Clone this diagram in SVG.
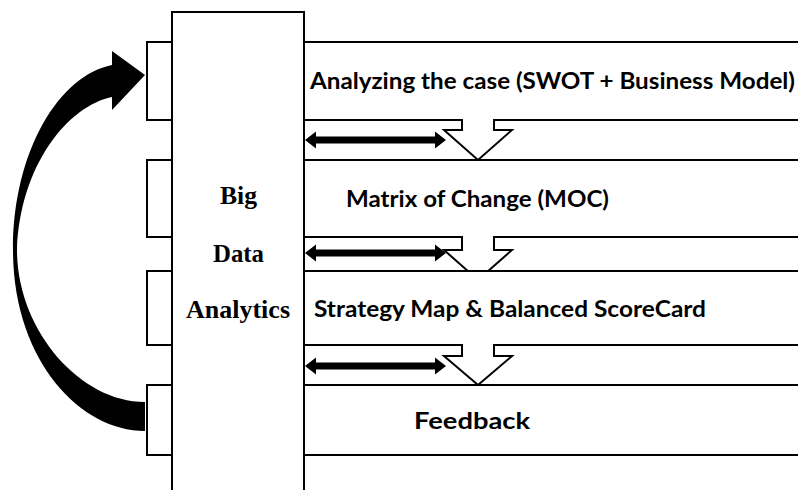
<svg xmlns="http://www.w3.org/2000/svg" width="798" height="490" viewBox="0 0 798 490">
<style>
.band{fill:#fff;stroke:#000;stroke-width:2}
.core{fill:#fff;stroke:#000;stroke-width:2}
.lbl{font-family:"Lato","Liberation Sans",sans-serif;font-weight:bold;font-size:23px;fill:#000}
.core-lbl{font-family:"Liberation Serif","Times New Roman",serif;font-weight:bold;font-size:25px;fill:#000;text-anchor:middle}
.dbl{fill:#000}
</style>
<defs>
<path id="dblarrow" d="M0 0 L11 -8.5 L11 -3.5 L130 -3.5 L130 -8.5 L141 0 L130 8.5 L130 3.5 L11 3.5 L11 8.5 Z"/>
</defs>
<rect width="798" height="490" fill="#fff"/>
<g id="band1">
<path class="band" d="M800 42 L147 42 L147 120 L462 120 L462 130 L444 130 L478 160 L512 130 L494 130 L494 120 L800 120"/>
<text class="lbl" x="310" y="89" textLength="485" lengthAdjust="spacingAndGlyphs">Analyzing the case (SWOT + Business Model)</text>
</g>
<g id="band2">
<path class="band" d="M800 160 L147 160 L147 237 L462 237 L462 250 L444 250 L478 280 L512 250 L494 250 L494 237 L800 237"/>
<text class="lbl" x="346" y="207" textLength="263" lengthAdjust="spacingAndGlyphs">Matrix of Change (MOC)</text>
</g>
<g id="band3">
<path class="band" d="M800 271 L147 271 L147 345 L462 345 L462 356 L444 356 L478 385 L512 356 L494 356 L494 345 L800 345"/>
<text class="lbl" x="314" y="317" textLength="392" lengthAdjust="spacingAndGlyphs">Strategy Map &amp; Balanced ScoreCard</text>
</g>
<g id="band4">
<path class="band" d="M800 385 L147 385 L147 455 L800 455"/>
<text class="lbl" x="414" y="429" textLength="116" lengthAdjust="spacingAndGlyphs">Feedback</text>
</g>
<g id="big-data-analytics">
<rect class="core" x="172" y="12" width="132" height="490"/>
<text class="core-lbl" x="238.5" y="204" textLength="37" lengthAdjust="spacingAndGlyphs">Big</text>
<text class="core-lbl" x="238.5" y="262" textLength="51" lengthAdjust="spacingAndGlyphs">Data</text>
<text class="core-lbl" x="238" y="318" textLength="104" lengthAdjust="spacingAndGlyphs">Analytics</text>
</g>
<g id="connectors">
<use href="#dblarrow" class="dbl" x="305" y="140"/>
<use href="#dblarrow" class="dbl" x="305" y="253"/>
<use href="#dblarrow" class="dbl" x="305" y="366"/>
<path id="feedback-loop" fill="#000" d="M145 431 C80 431 13 360 13 250 C13 150 60 75 112 65 L112 51 L145 75 L112 110 L112 97 C68 106 20 165 17 250 C17 330 80 402 145 402 Z"/>
</g>
</svg>
